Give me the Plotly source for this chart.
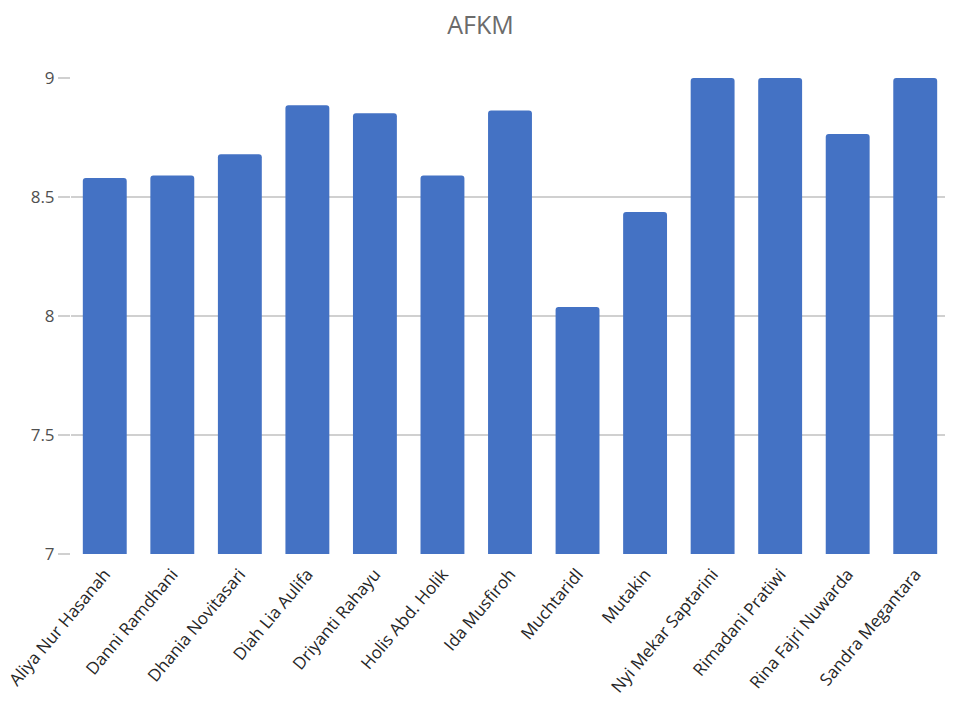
import plotly.graph_objects as go

names = [
    'Aliya Nur Hasanah', 'Danni Ramdhani', 'Dhania Novitasari', 'Diah Lia Aulifa',
    'Driyanti Rahayu', 'Holis Abd. Holik', 'Ida Musfiroh', 'Muchtaridl', 'Mutakin',
    'Nyi Mekar Saptarini', 'Rimadani Pratiwi', 'Rina Fajri Nuwarda', 'Sandra Megantara',
]
afkm = [8.58, 8.59, 8.68, 8.885, 8.852, 8.59, 8.863, 8.038, 8.437, 9.0, 9.0, 8.765, 9.0]
y_ticks = [7, 7.5, 8, 8.5, 9]

trace = go.Bar(
    x=names,
    y=afkm,
    marker=dict(color='#4472c4', line=dict(width=0)),
)

fig = go.Figure([trace], layout=go.Layout())
# page body adds an 8px offset, so the figure is sized to fit the window
fig.update_layout(
    width=945,
    height=706,
    paper_bgcolor='white',
    plot_bgcolor='white',
    margin=dict(l=63, r=4, t=70, b=160, autoexpand=False),
    bargap=0.35,
    barcornerradius=3,
    showlegend=False,
    font=dict(family='Open Sans, DejaVu Sans, sans-serif', color='#404040'),
    title=dict(
        text='AFKM',
        x=0.5, xanchor='center',
        y=0.976, yanchor='middle',
        font=dict(size=25, color='#6b6b6b'),
    ),
)
fig.update_xaxes(
    tickangle=-50,
    tickfont=dict(size=17, color='#262626'),
    ticklabelstandoff=6,
    showgrid=False,
    showline=False,
    ticks='',
    automargin=False,
)
fig.update_yaxes(
    range=[7, 9],
    tickvals=y_ticks,
    ticktext=[f'{v:g}' for v in y_ticks],
    tickfont=dict(size=17, color='#505050'),
    showgrid=True,
    gridcolor='#d0d0d0',
    gridwidth=2,
    ticks='outside',
    ticklen=12,
    tickwidth=2,
    tickcolor='#d0d0d0',
    zeroline=False,
    showline=False,
    automargin=False,
)

fig.write_html('out.html')
